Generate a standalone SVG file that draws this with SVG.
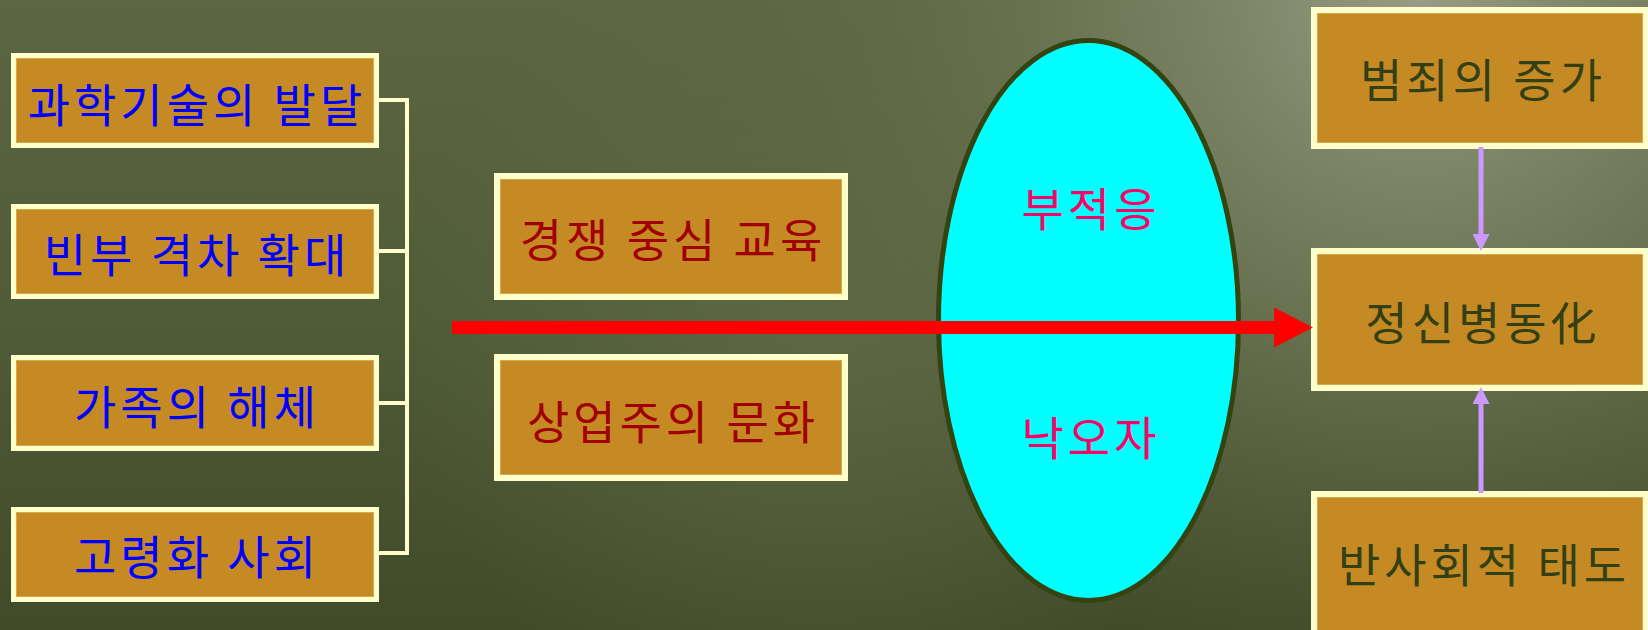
<svg xmlns="http://www.w3.org/2000/svg" width="1648" height="630" viewBox="0 0 1648 630">
  <defs>
    <linearGradient id="bgV" x1="0" y1="0" x2="0" y2="1">
      <stop offset="0" stop-color="#5c6642"/>
      <stop offset="0.5" stop-color="#505b38"/>
      <stop offset="1" stop-color="#414b2a"/>
    </linearGradient>
    <radialGradient id="hi" cx="1420" cy="0" r="700" gradientUnits="userSpaceOnUse">
      <stop offset="0" stop-color="#9aa088" stop-opacity="0.95"/>
      <stop offset="0.45" stop-color="#7d8566" stop-opacity="0.6"/>
      <stop offset="1" stop-color="#5c6642" stop-opacity="0"/>
    </radialGradient>
    <radialGradient id="hi2" cx="820" cy="330" r="420" gradientUnits="userSpaceOnUse">
      <stop offset="0" stop-color="#66704c" stop-opacity="0.6"/>
      <stop offset="1" stop-color="#66704c" stop-opacity="0"/>
    </radialGradient>
    <marker id="redHead" markerUnits="userSpaceOnUse" markerWidth="40" markerHeight="40" viewBox="0 0 39 40" refX="0" refY="20" orient="auto">
      <path d="M0,0 L39,20 L0,40 z" fill="#ff0000"/>
    </marker>
    <marker id="purHead" markerUnits="userSpaceOnUse" markerWidth="17" markerHeight="17" viewBox="0 0 16 16" refX="0" refY="8" orient="auto">
      <path d="M0,0 L16,8 L0,16 z" fill="#cc99ff"/>
    </marker>
  </defs>
  <style>
    .outer { fill: #ffffcc; }
    .inner { fill: #c68a24; stroke: #d9a848; stroke-width: 1; }
    .t { font-family: "Noto Sans CJK KR", "Noto Sans", sans-serif; font-size: 46px; letter-spacing: 4px; text-anchor: middle; }
    .blue { fill: #0000ff; }
    .red { fill: #a00000; }
    .olive { fill: #333f14; }
    .pink { fill: #ff0066; }
    .tree { fill: none; stroke: #ffffcc; stroke-width: 4; }
  </style>

  <rect x="0" y="0" width="1648" height="630" fill="url(#bgV)"/>
  <rect x="0" y="0" width="1648" height="630" fill="url(#hi2)"/>
  <rect x="0" y="0" width="1648" height="630" fill="url(#hi)"/>

  <g id="n-science">
    <rect class="outer" x="11" y="53" width="368" height="95"/>
    <rect class="inner" x="16.5" y="58.5" width="357" height="84"/>
    <text class="t blue" x="197" y="122">과학기술의 발달</text>
  </g>
  <g id="n-gap">
    <rect class="outer" x="11" y="204" width="368" height="95"/>
    <rect class="inner" x="16.5" y="209.5" width="357" height="84"/>
    <text class="t blue" x="197" y="272">빈부 격차 확대</text>
  </g>
  <g id="n-family">
    <rect class="outer" x="11" y="355" width="368" height="96"/>
    <rect class="inner" x="16.5" y="360.5" width="357" height="85"/>
    <text class="t blue" x="197" y="424">가족의 해체</text>
  </g>
  <g id="n-aging">
    <rect class="outer" x="11" y="507" width="368" height="95"/>
    <rect class="inner" x="16.5" y="512.5" width="357" height="84"/>
    <text class="t blue" x="197" y="574">고령화 사회</text>
  </g>

  <g id="n-competition">
    <rect class="outer" x="494" y="173" width="354" height="127"/>
    <rect class="inner" x="500.5" y="179.5" width="341" height="114"/>
    <text class="t red" x="673" y="257">경쟁 중심 교육</text>
  </g>
  <g id="n-commercial">
    <rect class="outer" x="494" y="354" width="354" height="127"/>
    <rect class="inner" x="500.5" y="360.5" width="341" height="114"/>
    <text class="t red" x="673" y="439">상업주의 문화</text>
  </g>

  <g id="n-ellipse">
    <ellipse cx="1088.5" cy="320.5" rx="150" ry="280" fill="#00ffff" stroke="#334411" stroke-width="5"/>
    <text class="t pink" x="1091" y="226">부적응</text>
    <text class="t pink" x="1091" y="455">낙오자</text>
  </g>

  <g id="n-crime">
    <rect class="outer" x="1311" y="7" width="340" height="142"/>
    <rect class="inner" x="1317.5" y="13.5" width="325" height="129"/>
    <text class="t olive" x="1483" y="97">범죄의 증가</text>
  </g>
  <g id="n-mental">
    <rect class="outer" x="1311" y="248" width="340" height="143"/>
    <rect class="inner" x="1317.5" y="254.5" width="325" height="130"/>
    <text class="t olive" x="1483" y="340">정신병동化</text>
  </g>
  <g id="n-antisocial">
    <rect class="outer" x="1311" y="491" width="340" height="145"/>
    <rect class="inner" x="1317.5" y="497.5" width="325" height="135"/>
    <text class="t olive" x="1484" y="582">반사회적 태도</text>
  </g>

  <g id="connectors">
    <path class="tree" d="M379,100 H407 M379,251 H407 M379,403 H407 M379,553 H407 M407,98 V555"/>
    <line x1="452" y1="327.5" x2="1274" y2="327.5" stroke="#ff0000" stroke-width="13" marker-end="url(#redHead)"/>
    <line x1="1481" y1="147" x2="1481" y2="234" stroke="#cc99ff" stroke-width="5" marker-end="url(#purHead)"/>
    <line x1="1481" y1="493" x2="1481" y2="404" stroke="#cc99ff" stroke-width="5" marker-end="url(#purHead)"/>
  </g>
</svg>
